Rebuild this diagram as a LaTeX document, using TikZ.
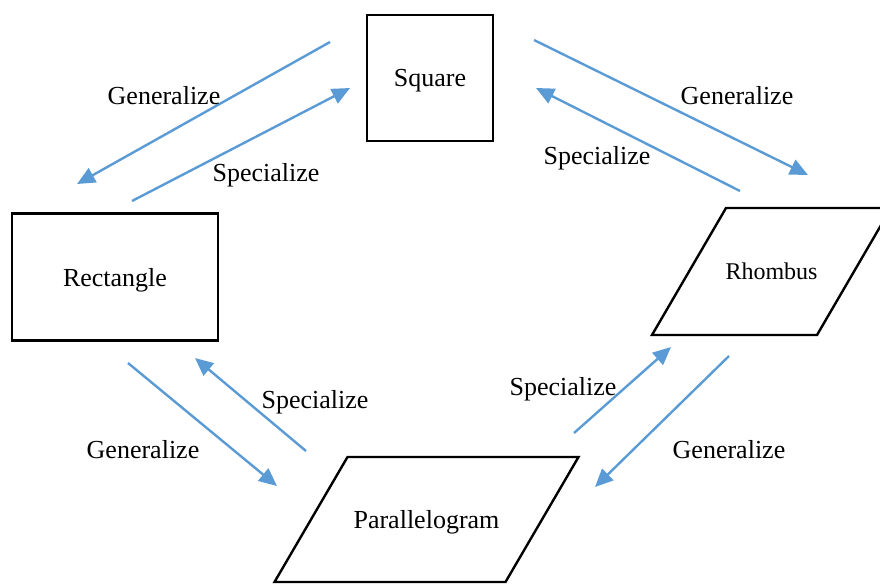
\documentclass[tikz,border=0pt]{standalone}
\usepackage{fontspec}
\setmainfont{Liberation Serif}
\usetikzlibrary{arrows.meta}

\tikzset{
  box/.style={draw, line width=2.4pt, inner sep=0pt, outer sep=0pt, text depth=0pt},
  body/.style={inner sep=0pt, outer sep=0pt, text depth=0pt},
  edge/.style={line width=2.4pt, line join=miter},
  link/.style={draw=linkblue, line width=2.4pt, -{Triangle[length=18pt,width=16pt]}},
  lbl/.style={inner sep=0pt}
}
\definecolor{linkblue}{HTML}{5B9BD5}

\begin{document}
\begin{tikzpicture}[x=1pt,y=-1pt,font=\fontsize{26}{30}\selectfont]

    \useasboundingbox (0,0) rectangle (880,584);
    \clip (0,0) rectangle (880,584);

    % Shapes
    \node[box, minimum width=126pt, minimum height=126pt] (square) at (430,78) {Square};
    \node[box, minimum width=206pt, minimum height=127pt] (rect) at (115,277) {Rectangle};
    \node[body, minimum width=165pt, minimum height=127pt, font=\fontsize{24}{28}\selectfont]
      (rhombus) at (771.5,271.5) {Rhombus};
    \node[body, minimum width=231pt, minimum height=125pt] (para) at (426.5,519.5) {Parallelogram};

    % Slanted outlines
    \draw[edge] ([xshift=-37pt]rhombus.south west) -- ([xshift=-37pt]rhombus.south east)
      -- ([xshift=37pt]rhombus.north east) -- ([xshift=37pt]rhombus.north west) -- cycle;
    \draw[edge] ([xshift=-36.5pt]para.south west) -- ([xshift=-36.5pt]para.south east)
      -- ([xshift=36.5pt]para.north east) -- ([xshift=36.5pt]para.north west) -- cycle;

    % Arrow end points
    \coordinate (sqrA) at (330,42);   \coordinate (recA) at (77,184);
    \coordinate (recB) at (132,201);  \coordinate (sqrB) at (350,88);
    \coordinate (sqrC) at (534,40);   \coordinate (rhoC) at (808,175);
    \coordinate (rhoD) at (740,191);  \coordinate (sqrD) at (536,88);
    \coordinate (recE) at (128,363);  \coordinate (parE) at (277,486);
    \coordinate (parF) at (306,451);  \coordinate (recF) at (195,358);
    \coordinate (parG) at (574,433);  \coordinate (rhoG) at (671,347);
    \coordinate (rhoH) at (729,356);  \coordinate (parH) at (595,487);

    % Generalize / Specialize arrows
    \draw[link] (sqrA) -- (recA);
    \draw[link] (recB) -- (sqrB);
    \draw[link] (sqrC) -- (rhoC);
    \draw[link] (rhoD) -- (sqrD);
    \draw[link] (recE) -- (parE);
    \draw[link] (parF) -- (recF);
    \draw[link] (parG) -- (rhoG);
    \draw[link] (rhoH) -- (parH);

    % Labels
    \node[lbl] (genA) at (164,96) {Generalize};
    \node[lbl] (speB) at (266,175) {Specialize};
    \node[lbl] (genC) at (737,96) {Generalize};
    \node[lbl] (speD) at (597,158) {Specialize};
    \node[lbl] (genE) at (143,450) {Generalize};
    \node[lbl] (speF) at (315,402) {Specialize};
    \node[lbl] (speG) at (563,389) {Specialize};
    \node[lbl] (genH) at (729,450) {Generalize};

\end{tikzpicture}
\end{document}
